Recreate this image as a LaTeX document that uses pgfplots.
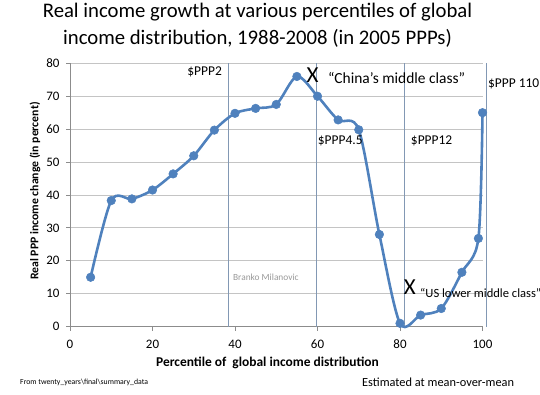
\documentclass[border=0pt]{standalone}
\usepackage{pgfplots}
\pgfplotsset{compat=1.18}
\usepackage{fontspec}
\setmainfont{Carlito}
\definecolor{xlblue}{HTML}{4F81BD}
\definecolor{vline}{HTML}{8298B4}
\definecolor{gridc}{HTML}{C4C4C4}
\definecolor{axisc}{HTML}{8C8C8C}
\newcommand{\fs}[1]{\fontsize{#1}{#1}\selectfont}
\begin{document}
\begin{tikzpicture}[x=1bp,y=1bp]
\path[use as bounding box] (0,0) rectangle (540,394);
\begin{axis}[
  at={(70bp,67.4bp)}, anchor=south west,
  scale only axis, width=412.5bp, height=263.3bp,
  xmin=0, xmax=100, ymin=0, ymax=80,
  axis lines=left, axis line style={-, draw=axisc, line width=0.8bp},
  xtick={0,20,...,100}, ytick={0,10,...,80},
  tick align=outside, major tick length=4bp,
  tick style={draw=axisc, line width=0.8bp},
  ymajorgrids, grid style={draw=gridc, line width=0.8bp},
  /pgf/number format/assume math mode=true,
  tick label style={font=\fs{13}},
  xticklabel style={yshift=-6bp},
  yticklabel style={xshift=-3bp},
  xlabel={Percentile of\ \ global income distribution},
  xlabel style={font=\bfseries\fs{13.5}, at={(axis description cs:0.4788,-0.1382)}, anchor=center},
  ylabel={Real PPP income change (in percent)},
  ylabel style={font=\bfseries\fs{11.8}, at={(axis description cs:-0.0848,0.515)}, anchor=center},
  clip=false,
]
% vertical reference lines
\addplot[vline, line width=0.8bp] coordinates {(38.5,0) (38.5,80)};
\addplot[vline, line width=0.8bp] coordinates {(59.8,0) (59.8,80)};
\addplot[vline, line width=0.8bp] coordinates {(81.0,0) (81.0,80)};
\addplot[vline, line width=0.8bp] coordinates {(101.0,0) (101.0,80)};
% data
\addplot[xlblue, line width=2.6bp, smooth, tension=0.5,
  mark=*, mark size=4.3bp, mark options={fill=xlblue, draw=xlblue, line width=0.5bp}]
  coordinates {
  (5,15) (10,38.3) (15,38.8) (20,41.5) (25,46.4) (30,51.9) (35,59.7)
  (40,64.8) (45,66.3) (50,67.5) (55,76) (60,70) (65,62.8) (70,59.8)
  (75,28) (80,1) (85,3.5) (90,5.5) (95,16.5) (99,26.8) (100,65)
  };
% annotations
\node[anchor=east, inner sep=0, font=\fs{13.5}] at (axis cs:36.85,77.4) {\$PPP2};
\node[anchor=west, inner sep=0, font=\fs{13.5}] at (axis cs:60.05,56.4) {\$PPP4.5};
\node[anchor=west, inner sep=0, font=\fs{13.5}] at (axis cs:82.6,56.4) {\$PPP12};
\node[anchor=west, inner sep=0, font=\fs{13.5}] at (axis cs:101.3,73.7) {\$PPP 110};
\node[inner sep=0, font=\fs{23}] at (axis cs:58.8,76.3) {X};
\node[anchor=west, inner sep=0, font=\fs{15.5}] at (axis cs:62.5,75.5) {“China’s middle class”};
\node[inner sep=0, font=\fs{23}] at (axis cs:82.4,11.9) {X};
\node[anchor=west, inner sep=0, font=\fs{12.6}] at (axis cs:84.85,10.2) {“US lower middle class”};
\node[anchor=west, inner sep=0, font=\fs{9.4}, text=gray!80] at (axis cs:39.5,15.1) {Branko Milanovic};
\end{axis}
% title and footers
\node[anchor=base, inner sep=0, font=\fs{20.8}] at (257.5,376.3) {Real income growth at various percentiles of global};
\node[anchor=base, inner sep=0, font=\fs{20.8}] at (257.5,350) {income distribution, 1988-2008 (in 2005 PPPs)};
\node[anchor=west, inner sep=0, font=\fs{7.8}] at (20,12) {From twenty\_years\textbackslash final\textbackslash summary\_data};
\node[anchor=west, inner sep=0, font=\fs{12.4}] at (362,12) {Estimated at mean-over-mean};
\end{tikzpicture}
\end{document}
